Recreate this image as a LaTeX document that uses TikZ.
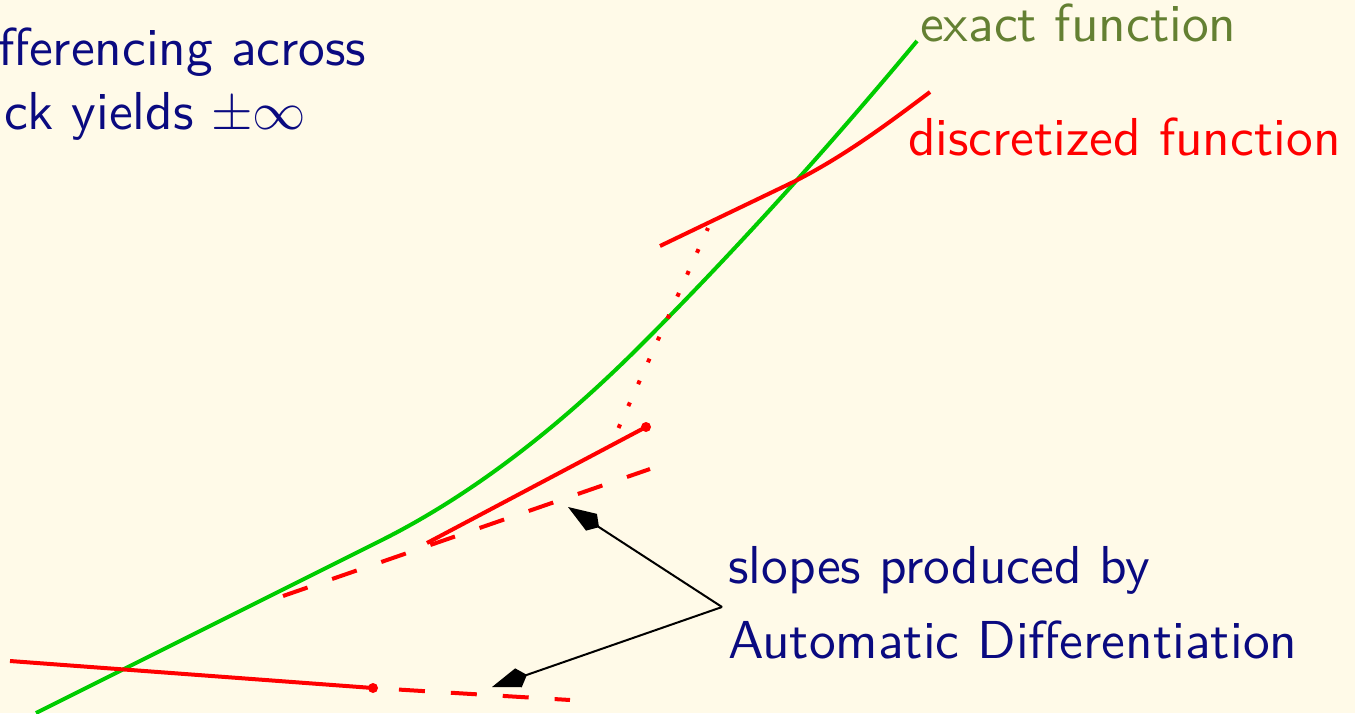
\documentclass[tikz,border=0pt]{standalone}
\usepackage{amsmath}
\usepackage{amssymb}
\usepackage{xcolor}
\usepackage{tikz}
\usetikzlibrary{arrows.meta}
\definecolor{slidebg}{RGB}{255,250,232}
\definecolor{navytext}{RGB}{10,10,128}
\definecolor{olivetext}{RGB}{100,128,50}
\definecolor{exactgreen}{RGB}{0,204,0}

\begin{document}
\begin{tikzpicture}[x=0.02cm,y=-0.02cm,
  lbl/.style={inner sep=0,anchor=base west,font=\fontsize{10}{12}\sffamily,scale=3.04,transform shape},
  fn/.style={line width=0.08cm},
  tangent/.style={red,line width=0.08cm,dash pattern=on 0.52cm off 0.52cm},
  ptr/.style={line width=0.04cm,-{Kite[length=0.74cm,width=0.4cm,inset=0.18cm]}}]
\useasboundingbox[fill=slidebg] (0,0) rectangle (1355,713);
\draw[fn,exactgreen] (36,713) -- (380,541) .. controls (466.7,497.7) and (553.3,432.7) .. (640,346)
  .. controls (731.3,254.7) and (823.7,153) .. (917,41);
\draw[fn,red] (660,246) -- (785,186) .. controls (840,160) and (890,122) .. (930,92);
\coordinate (kinkA) at (646,427);
\coordinate (kinkB) at (373,688);
\draw[fn,red] (427,543) -- (kinkA);
\draw[tangent] (283,596) -- (650,469);
\draw[fn,red] (10,661) -- (kinkB);
\draw[tangent,dash phase=0.52cm] (kinkB) -- (570,700);
\draw[red,line width=0.08cm,dash pattern=on 0.08cm off 0.4cm] (618.5,428) -- (708,228);
\fill[red] (kinkA) circle (0.1cm);
\fill[red] (kinkB) circle (0.1cm);
\node[lbl,navytext] (diffA) at (-3,66) {fferencing across};
\node[lbl,navytext] (diffB) at (3,130) {ck yields $\pm\infty$};
\node[lbl,olivetext] (exact) at (919,42) {exact function};
\node[lbl,red] (discr) at (907,155) {discretized function};
\node[lbl,navytext] (slopes) at (727,583) {slopes produced by};
\node[lbl,navytext] (autodiff) at (727,658) {Automatic Differentiation};
\coordinate (fork) at (722,607);
\coordinate (tipUp) at (568,507);
\coordinate (tipLow) at (492,687);
\draw[ptr] (fork) -- (tipUp);
\draw[ptr] (fork) -- (tipLow);
\end{tikzpicture}
\end{document}
